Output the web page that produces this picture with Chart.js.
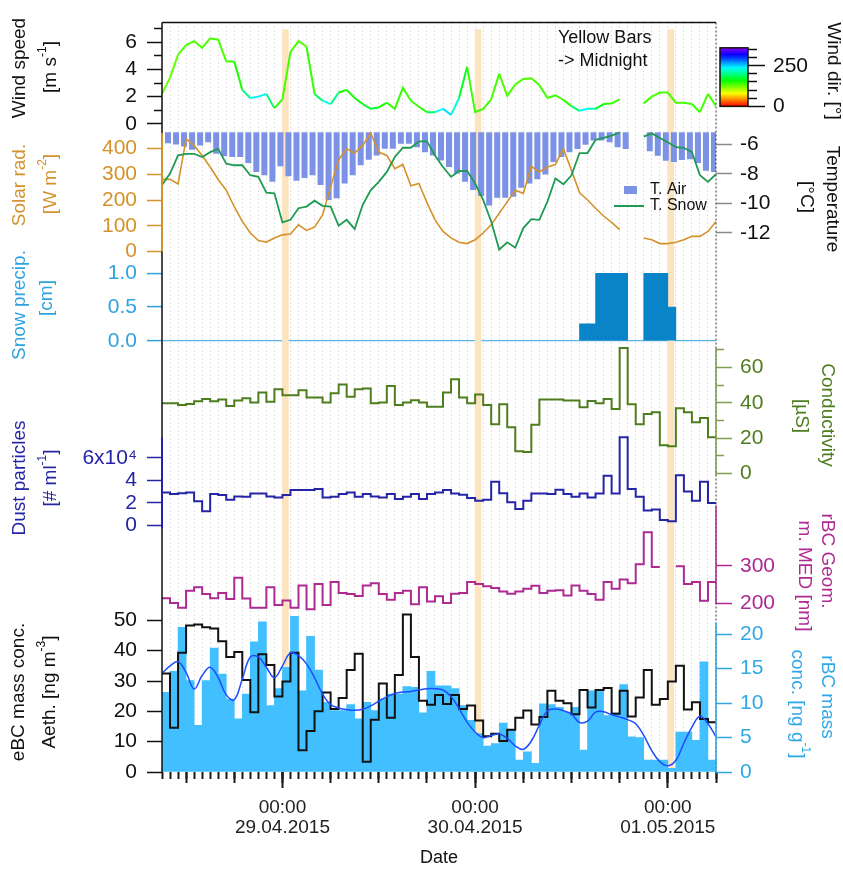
<!DOCTYPE html>
<html>
<head>
<meta charset="utf-8">
<script src="https://cdn.jsdelivr.net/npm/chart.js@4.4.0/dist/chart.umd.min.js"></script>
<style>
  html, body { margin: 0; padding: 0; background: #fff; }
</style>
</head>
<body>
<canvas id="snowChart" width="843" height="869"></canvas>
<script>
const FONT = "'Liberation Sans', Arial, sans-serif";

// time axis: hours since 28.04.2015 00:00
const hours = [9, 10, 11, 12, 13, 14, 15, 16, 17, 18, 19, 20, 21, 22, 23, 24, 25, 26, 27, 28,
  29, 30, 31, 32, 33, 34, 35, 36, 37, 38, 39, 40, 41, 42, 43, 44, 45, 46, 47, 48,
  49, 50, 51, 52, 53, 54, 55, 56, 57, 58, 59, 60, 61, 62, 63, 64, 65, 66, 67, 68,
  69, 70, 71, 72, 73, 74, 75, 76, 77, 78];
const avgHours = hours.slice(0, -1); // hourly means, each covering [h, h+1]
const midnights = [24, 48, 72];
const midnightBand = [1, 1, 1];

const windSpeed = [2.2, 3.4, 5.1, 5.8, 6.1, 5.6, 6.3, 6.2, 4.6, 4.6,
  2.5, 1.9, 2.0, 2.2, 1.15, 1.8, 5.3, 6.1, 5.7, 2.2,
  1.7, 1.45, 2.3, 2.5, 1.9, 1.45, 1.1, 1.2, 1.55, 1.1,
  2.65, 1.7, 1.25, 0.85, 0.85, 1.1, 0.65, 1.9, 4.2, 0.85,
  1.1, 1.8, 3.7, 2.05, 2.9, 3.3, 3.35, 2.85, 1.9, 2.1,
  1.75, 1.3, 0.95, 1.1, 1.1, 1.45, 1.5, 1.8, null, null,
  1.5, 2.0, 2.3, 2.3, 1.55, 1.55, 1.45, 0.85, 2.2, 1.3];
const windDir = [125, 125, 130, 135, 135, 135, 135, 135, 135, 140,
  160, 235, 245, 235, 150, 140, 135, 135, 135, 150,
  225, 240, 160, 150, 150, 160, 185, 160, 140, 140,
  140, 140, 140, 150, 225, 245, 250, 200, 140, 140,
  140, 140, 135, 135, 135, 135, 135, 135, 140, 140,
  140, 150, 235, 240, 190, 150, 140, 140, null, null,
  140, 135, 135, 135, 135, 135, 140, 140, 135, 135];
const solarRad = [280, 280, 262, 437, 412, 373, 328, 280, 238, 174,
  117, 72, 43, 37, 53, 65, 68, 104, 82, 95,
  142, 251, 356, 399, 382, 412, 459, 386, 373, 322,
  338, 255, 264, 190, 123, 78, 53, 36, 31, 46,
  72, 104, 149, 193, 238, 226, 331, 309, 328, 338,
  399, 315, 229, 200, 168, 138, 113, 85, null, null,
  53, 46, 31, 31, 36, 46, 59, 59, 78, 117];
const tAir = [-5.91, -6.0, -6.13, -6.36, -6.07, -5.85, -6.63, -6.8, -6.85, -6.85,
  -7.26, -7.86, -8.09, -8.54, -7.48, -8.15, -8.47, -8.27, -8.09, -8.76,
  -9.77, -9.66, -8.65, -8.09, -7.41, -7.03, -6.74, -6.29, -6.29, -5.95,
  -5.95, -6.18, -6.52, -6.74, -7.08, -7.53, -7.97, -8.54, -9.1, -9.5,
  -10.15, -9.62, -9.62, -9.55, -8.94, -8.65, -8.36, -8.04, -7.19, -6.85,
  -6.52, -6.3, -6.02, -5.73, -5.73, -5.84, -6.18, -6.3, null, null,
  -6.45, -6.77, -7.1, -7.19, -7.05, -7.0, -7.25, -7.78, -7.86, null];
const tSnow = [-8.76, -7.97, -6.74, -6.63, -6.63, -6.85, -6.52, -6.29, -7.3, -7.41,
  -7.41, -8.09, -8.2, -9.28, -9.32, -11.3, -11.12, -10.33, -10.22, -9.82,
  -10.17, -10.22, -11.52, -11.12, -11.74, -10.1, -9.1, -8.54, -7.86, -6.85,
  -6.22, -6.22, -5.78, -5.78, -6.74, -7.53, -8.2, -7.8, -7.8, -8.65,
  -9.77, -11.23, -13.14, -12.65, -13.02, -11.68, -11.07, -11.12, -9.89, -8.31,
  -8.7, -8.09, -6.58, -6.58, -5.68, -5.55, -5.39, -5.17, null, null,
  -5.46, -5.24, -5.55, -5.85, -6.18, -6.22, -6.52, -8.09, -8.54, -8.02];
const snowHours = [61, 62, 63, 64, 65, 66, 69, 70, 71, 72];
const snowPrecip = [0.25, 0.25, 1, 1, 1, 1, 1, 1, 1, 0.5];

const conductivity = [39.8, 39.8, 38.8, 39.4, 41, 42.2, 41, 42, 38.3, 41.3,
  42.6, 40.3, 45.9, 40.7, 47.8, 44.4, 44.4, 47.2, 43.1, 43.1,
  40.3, 45.4, 50.4, 43.5, 47.8, 48.2, 39.8, 40.2, 49.5, 38.8,
  40.3, 41.5, 40.3, 37.9, 37.9, 45.9, 53.4, 43, 39.8, 44.8,
  38.8, 28, 39.2, 26.2, 12.7, 12.2, 27.6, 42, 42, 42,
  41.3, 41.3, 37.5, 41.1, 39.8, 42.2, 36.6, 71, 39.2, 28,
  33.8, 34.7, 16.1, 15.5, 37, 34.7, 29.1, 31.4, 20.6];
const dustParticles = [2.91, 2.77, 2.85, 2.91, 2.12, 1.24, 2.77, 2.68, 2.27, 2.56,
  2.53, 2.82, 2.82, 2.56, 2.47, 2.68, 3.12, 3.12, 3.12, 3.21,
  2.47, 2.53, 2.77, 2.91, 2.53, 2.77, 2.56, 2.47, 2.77, 2.32,
  2.53, 2.77, 2.32, 2.77, 2.91, 3.12, 2.82, 2.71, 2.41, 2.18,
  2.27, 3.86, 2.85, 2.03, 1.44, 2.18, 2.82, 2.82, 2.77, 3.15,
  2.77, 2.53, 2.82, 2.47, 2.82, 4.39, 2.82, 7.83, 3.21, 2.53,
  1.3, 1.39, 0.47, 0.35, 4.44, 3.0, 2.18, 3.86, 1.97];
const geomMed = [214, 201, 189, 234, 243, 225, 214, 228, 212, 268,
  213, 189, 189, 243, 196, 208, 189, 248, 185, 252,
  196, 257, 228, 225, 220, 248, 254, 225, 210, 228,
  234, 198, 243, 205, 219, 201, 226, 228, 257, 252,
  246, 241, 232, 226, 232, 239, 247, 228, 234, 235,
  221, 248, 234, 225, 210, 257, 239, 264, 254, 304,
  389, 297, null, null, 299, 252, 257, 207, 257];
const ebcAeth = [32.5, 14.6, 39.3, 48.3, 48.6, 47.7, 47.3, 43.1, 37.9, 39.6,
  30.3, 19.7, 38.8, 35.3, 24.9, 29.8, 39.3, 7.2, 13.5, 20,
  26.2, 20.8, 24.4, 33.6, 39, 3.4, 17.2, 29.2, 17.9, 32,
  51.9, 37.9, 23.5, 22.2, 25.4, 22.4, 25.4, 20.8, 21.9, 17,
  11.8, 12.6, 10.2, 13.9, 17.9, 20.3, 15.7, 18.1, 26.8, 23.5,
  22.7, 19, 27, 21.3, 27, 27.7, 19.2, 26.8, 18.3, 24.6,
  33.6, 22.2, 24.1, 29.8, 35, 20.6, 23, 17.5, 16.4];
const rbcMass = [11.57, 14.6, 21.0, 13.26, 6.77, 13.26, 17.97, 14.2, 10.6, 7.73,
  11.3, 18.9, 21.8, 9.65, 12.1, 15.2, 22.6, 11.8, 19.7, 14.8,
  10.1, 8.93, 8.93, 9.8, 7.73, 10.1, 8.93, 10.6, 11.3, 11.3,
  12.4, 12.3, 8.6, 14.6, 12.5, 12.5, 12.1, 9.65, 7.5, 5.57,
  3.75, 4.13, 7.1, 6.05, 1.73, 2.93, 1.25, 9.9, 9.8, 9.4,
  8.7, 9.4, 3.17, 11.8, 11.8, 8.2, 8.6, 12.7, 5.1, 5.0,
  1.73, 1.73, 1.73, 0.53, 5.81, 5.81, 4.6, 16.0, 1.73];
const rbcSmooth = [14.3, 15.4, 16.0, 14.45, 12.05, 14.0, 15.2, 13.7, 11.2, 10.5,
  13.5, 16.7, 16.7, 15.2, 13.7, 15.4, 17.3, 16.9, 15.7, 13.7,
  11.3, 9.8, 9.3, 9.05, 8.95, 9.1, 9.6, 10.3, 10.9, 11.4,
  11.6, 11.7, 11.9, 12.1, 12.1, 11.9, 10.95, 9.2, 7.25, 5.8,
  5.0, 5.3, 5.5, 4.9, 3.8, 3.3, 4.5, 6.8, 8.9, 9.15,
  8.9, 8.4, 7.2, 7.4, 8.7, 8.75, 8.3, 8.0, 7.6, 7.0,
  5.3, 3.1, 1.5, 0.9, 1.7, 4.2, 6.5, 8.1, 7.0, 5.1];

// tick labels
const wsTicks = [0, 2, 4, 6], wsMinor = [1, 3, 5, 7];
const solTicks = [0, 100, 200, 300, 400];
const snowTicks = [0, 0.5, 1];
const dustTicks = [0, 2, 4, 6];
const ebcTicks = [0, 10, 20, 30, 40, 50];
const wdTicks = [0, 250], wdMinor = [50, 100, 150, 200, 300, 350];
const tempTicks = [-12, -10, -8, -6];
const condTicks = [0, 20, 40, 60], condMinor = [10, 30, 50, 70];
const geomTicks = [200, 300];
const rbcTicks = [0, 5, 10, 15, 20];

const solColor = '#d4922a', snowLabel = '#2ea3e0', snowBar = '#0a84c8';
const dustColor = '#2424a6', condColor = '#4e7d1e', geomColor = '#ad2a91';
const rbcLabel = '#2fa8e6', rbcBar = '#42bfff', tAirColor = '#7b92e6', tSnowColor = '#1f9a52';

// panels share one plot area; each axis range is set so its values land in its own band
const AREA = { left: 162, right: 716, top: 16, bottom: 772 };
function band(v1, p1, v2, p2) {
  const k = (v2 - v1) / (p2 - p1);
  return { min: v1 + k * (AREA.bottom - p1), max: v1 + k * (AREA.top - p1) };
}
const R = {
  ws: band(0, 118, 6, 36), wd: band(0, 100.5, 250, 59.5), sol: band(0, 247, 400, 143),
  tmp: band(-6, 139, -12, 228), snow: band(0, 337, 1, 269), cond: band(0, 471, 60, 364),
  dust: band(0, 523, 6, 455), geom: band(200, 602, 300, 564), ebc: band(0, 772, 50, 619),
  rbc: band(0, 772, 20, 633), mid: band(0, 772, 1, 23)
};
const tAirTop = -5.17;

function dirColor(d) {
  return 'hsl(' + (d * 0.76).toFixed(1) + ', 100%, 50%)';
}

const pts = (xs, ys, dx = 0) => xs.map((x, i) => ({ x: x + dx, y: ys[i] }));
function stepPts(xs, ys) {
  const out = [];
  xs.forEach((x, i) => {
    if (ys[i] === null) out.push({ x, y: null });
    else out.push({ x, y: ys[i] }, { x: x + 1, y: ys[i] });
  });
  return out;
}

const tickFont = { family: FONT, size: 21 };
function yAxis(pos, range, ticks, color, o = {}) {
  return {
    type: 'linear', axis: 'y', position: pos, weight: o.weight || 0,
    min: range.min, max: range.max, bounds: 'data', beginAtZero: false,
    afterBuildTicks: s => { s.ticks = ticks.map(value => ({ value })); },
    afterFit: s => { s.width = 0; },
    border: { display: false },
    grid: Object.assign({
      drawOnChartArea: false, tickLength: o.len || 15, tickWidth: 1.5,
      tickColor: o.tickColor || color
    }, o.grid || {}),
    ticks: {
      display: o.labels !== false, color, padding: o.pad || 10, autoSkip: false,
      font: tickFont, callback: o.fmt || (v => String(v))
    }
  };
}
function xAxis(ticks, o = {}) {
  return {
    type: 'linear', axis: 'x', position: 'bottom', min: 9, max: 78, offset: false,
    afterBuildTicks: s => { s.ticks = ticks.map(value => ({ value })); },
    afterFit: s => { s.height = 0; },
    border: { display: false, dash: [1, 3] },
    grid: Object.assign({
      offset: false, drawOnChartArea: false, tickLength: 7, tickWidth: 2,
      tickColor: '#1a1a1a', tickBorderDash: []
    }, o.grid || {}),
    ticks: Object.assign({ display: false, autoSkip: false, maxRotation: 0 }, o.ticks || {})
  };
}
const hiddenX = { type: 'linear', display: false, min: 9, max: 78, offset: false, grid: { offset: false } };

function dateLabel(v) {
  const d = new Date(2015, 3, 28 + v / 24);
  const p = n => String(n).padStart(2, '0');
  return ['00:00', p(d.getDate()) + '.' + p(d.getMonth() + 1) + '.' + d.getFullYear()];
}

const titles = [
  { t: 'Wind speed', x: 20, y: 68, r: -1, c: '#111' },
  { t: '[m s^-1^]', x: 51, y: 67, r: -1, c: '#111' },
  { t: 'Solar rad.', x: 20, y: 185, r: -1, c: solColor },
  { t: '[W m^-2^]', x: 51, y: 184, r: -1, c: solColor },
  { t: 'Snow precip.', x: 20, y: 305, r: -1, c: snowLabel },
  { t: '[cm]', x: 47, y: 298, r: -1, c: snowLabel },
  { t: 'Dust particles', x: 20, y: 478, r: -1, c: dustColor },
  { t: '[# ml^-1^]', x: 51, y: 478, r: -1, c: dustColor },
  { t: 'eBC mass conc.', x: 19, y: 692, r: -1, c: '#111' },
  { t: 'Aeth. [ng m^-3^]', x: 50, y: 692, r: -1, c: '#111' },
  { t: 'Wind dir. [°]', x: 833, y: 71, r: 1, c: '#111' },
  { t: 'Temperature', x: 832, y: 199, r: 1, c: '#111' },
  { t: '[°C]', x: 806, y: 197, r: 1, c: '#111' },
  { t: 'Conductivity', x: 827, y: 415, r: 1, c: condColor },
  { t: '[µS]', x: 801, y: 416, r: 1, c: condColor },
  { t: 'rBC Geom.', x: 827, y: 561, r: 1, c: geomColor },
  { t: 'm. MED [nm]', x: 804, y: 576, r: 1, c: geomColor },
  { t: 'rBC mass', x: 827, y: 697, r: 1, c: rbcLabel },
  { t: 'conc. [ng g^-1^]', x: 797, y: 704, r: 1, c: rbcLabel }
];

function drawRich(ctx, text, x, y, rot, color, size) {
  const parts = text.split('^');
  const big = size + 'px ' + FONT, small = Math.round(size * 0.62) + 'px ' + FONT;
  let w = 0;
  parts.forEach((p, i) => { ctx.font = i % 2 ? small : big; w += ctx.measureText(p).width; });
  ctx.save();
  ctx.translate(x, y);
  ctx.rotate(rot * Math.PI / 2);
  ctx.fillStyle = color;
  ctx.textBaseline = 'middle';
  ctx.textAlign = 'left';
  let cx = -w / 2;
  parts.forEach((p, i) => {
    ctx.font = i % 2 ? small : big;
    ctx.fillText(p, cx, i % 2 ? -size * 0.42 : 0);
    cx += ctx.measureText(p).width;
  });
  ctx.restore();
}

function vline(ctx, x, y1, y2, color, w, dash) {
  ctx.beginPath();
  ctx.setLineDash(dash || []);
  ctx.strokeStyle = color;
  ctx.lineWidth = w;
  ctx.moveTo(x, y1);
  ctx.lineTo(x, y2);
  ctx.stroke();
  ctx.setLineDash([]);
}

// zero-width axes still need room to paint their labels (labels are clipped to the axis box)
const widenAxes = {
  id: 'widenAxes',
  afterLayout(chart) {
    Object.values(chart.scales).forEach(s => {
      const pos = s.options.position;
      if (pos === 'left') s.left = s.right - 160;
      else if (pos === 'right') s.right = s.left + 125;
      else if (pos === 'bottom') s.bottom = s.top + 90;
    });
  }
};

const decor = {
  id: 'decor',
  afterDraw(chart) {
    const { ctx, chartArea: a, scales: s } = chart;
    ctx.save();
    // frame and coloured axis lines
    vline(ctx, a.right, a.top, a.bottom, '#444', 1, [2, 2]);
    vline(ctx, a.left, a.top, a.bottom, '#111', 1.5);
    vline(ctx, a.left, s.ySol.getPixelForValue(0), s.ySol.getPixelForValue(460), solColor, 2);
    vline(ctx, a.left, s.yDust.getPixelForValue(-0.3), s.yDust.getPixelForValue(7.8), dustColor, 2);
    vline(ctx, a.right, s.yCond.getPixelForValue(-1), s.yCond.getPixelForValue(71), '#7f9f55', 1.5);
    vline(ctx, a.right, s.yGeom.getPixelForValue(198), s.yGeom.getPixelForValue(460), geomColor, 1.5);
    vline(ctx, a.right, s.yRbc.getPixelForValue(0), s.yRbc.getPixelForValue(21.7), rbcLabel, 1.5);
    ctx.beginPath();
    ctx.strokeStyle = '#111';
    ctx.lineWidth = 1.5;
    ctx.moveTo(a.left, a.top);
    ctx.lineTo(a.right, a.top);
    ctx.stroke();

    // wind direction colour bar
    const cb = s.yWd;
    const y0 = cb.getPixelForValue(0), y1 = cb.getPixelForValue(360);
    const g = ctx.createLinearGradient(0, y0, 0, y1);
    for (let d = 0; d <= 360; d += 20) g.addColorStop(d / 360, dirColor(d));
    ctx.fillStyle = g;
    ctx.fillRect(cb.left - 28, y1, 28, y0 - y1);
    ctx.strokeStyle = '#111';
    ctx.lineWidth = 1.5;
    ctx.strokeRect(cb.left - 28, y1, 28, y0 - y1);

    // axis titles
    titles.forEach(tt => drawRich(ctx, tt.t, tt.x, tt.y, tt.r, tt.c, 19));

    // notes and legend
    ctx.fillStyle = '#111';
    ctx.textBaseline = 'middle';
    ctx.textAlign = 'left';
    ctx.font = '18px ' + FONT;
    ctx.fillText('Yellow Bars', 558, 38);
    ctx.fillText('-> Midnight', 558, 61);
    ctx.font = '16px ' + FONT;
    ctx.fillStyle = tAirColor;
    ctx.fillRect(624, 186, 13, 8);
    ctx.fillStyle = '#111';
    ctx.fillText('T. Air', 650, 190);
    ctx.beginPath();
    ctx.strokeStyle = tSnowColor;
    ctx.lineWidth = 2;
    ctx.moveTo(614, 206);
    ctx.lineTo(644, 206);
    ctx.stroke();
    ctx.fillText('T. Snow', 650, 206);
    ctx.textAlign = 'center';
    ctx.font = '18px ' + FONT;
    ctx.fillText('Date', (a.left + a.right) / 2, 858);
    ctx.restore();
  }
};

const lineBase = { type: 'line', pointRadius: 0, fill: false, tension: 0, xAxisID: 'x' };
const barBase = { type: 'bar', grouped: false, borderWidth: 0, categoryPercentage: 1 };

new Chart(document.getElementById('snowChart'), {
  type: 'line',
  data: {
    datasets: [
      Object.assign({}, barBase, { label: 'Midnight', data: pts(midnights, midnightBand, 0.37), xAxisID: 'xMid', yAxisID: 'yMid',
        backgroundColor: '#fde4c0', barThickness: 6, order: 20 }),
      Object.assign({}, barBase, { label: 'rBC mass conc.', data: pts(avgHours, rbcMass, 0.5), xAxisID: 'xRb', yAxisID: 'yRbc',
        backgroundColor: rbcBar, barPercentage: 1, order: 15 }),
      Object.assign({}, barBase, { label: 'T. Air', data: pts(hours, tAir, 0.75), xAxisID: 'xTa', yAxisID: 'yTmp',
        base: tAirTop, backgroundColor: tAirColor, barPercentage: 0.75, order: 14 }),
      Object.assign({}, barBase, { label: 'Snow precip.', data: pts(snowHours, snowPrecip, 0.5), xAxisID: 'xSn', yAxisID: 'ySnow',
        backgroundColor: snowBar, barPercentage: 1, order: 13 }),
      Object.assign({}, lineBase, { label: 'Solar rad.', data: pts(hours, solarRad), yAxisID: 'ySol',
        borderColor: solColor, borderWidth: 1.6, order: 7 }),
      Object.assign({}, lineBase, { label: 'T. Snow', data: pts(hours, tSnow), yAxisID: 'yTmp',
        borderColor: tSnowColor, borderWidth: 1.8, order: 6 }),
      Object.assign({}, lineBase, { label: 'Wind speed', data: pts(hours, windSpeed), yAxisID: 'yWs',
        borderColor: dirColor(135), borderWidth: 2,
        segment: { borderColor: c => dirColor((windDir[c.p0DataIndex] + windDir[c.p1DataIndex]) / 2) }, order: 5 }),
      Object.assign({}, lineBase, { label: 'Conductivity', data: stepPts(avgHours, conductivity), yAxisID: 'yCond',
        borderColor: condColor, borderWidth: 2, order: 4 }),
      Object.assign({}, lineBase, { label: 'Dust particles', data: stepPts(avgHours, dustParticles), yAxisID: 'yDust',
        borderColor: dustColor, borderWidth: 2, order: 3 }),
      Object.assign({}, lineBase, { label: 'rBC Geom. m. MED', data: stepPts(avgHours, geomMed), yAxisID: 'yGeom',
        borderColor: geomColor, borderWidth: 2, order: 2 }),
      Object.assign({}, lineBase, { label: 'eBC mass conc. Aeth.', data: stepPts(avgHours, ebcAeth), yAxisID: 'yEbc',
        borderColor: '#111', borderWidth: 2, order: 1 }),
      Object.assign({}, lineBase, { label: 'rBC mass smoothed', data: pts(hours, rbcSmooth), yAxisID: 'yRbc',
        borderColor: '#1c4dff', borderWidth: 1.5, tension: 0.4, order: 0 })
    ]
  },
  options: {
    responsive: false,
    animation: false,
    events: [],
    layout: { padding: { left: 162, right: 95, top: 16, bottom: 97 } },
    plugins: { legend: { display: false }, tooltip: { enabled: false } },
    scales: {
      x: xAxis(hours, { grid: { drawOnChartArea: true, color: '#c8c8c8', lineWidth: 1 } }),
      x6: xAxis(hours.filter(h => h % 6 === 0), { grid: { tickLength: 11 } }),
      xd: xAxis(midnights, {
        grid: { tickLength: 16 },
        ticks: { display: true, color: '#222', padding: 10, font: { family: FONT, size: 19, lineHeight: 1.05 }, callback: dateLabel }
      }),
      xTa: hiddenX, xSn: hiddenX, xRb: hiddenX, xMid: hiddenX,
      yWs: yAxis('left', R.ws, wsTicks, '#111'),
      yWsM: yAxis('left', R.ws, wsMinor, '#111', { len: 8, labels: false }),
      ySol: yAxis('left', R.sol, solTicks, solColor),
      ySnow: yAxis('left', R.snow, snowTicks, snowLabel, {
        fmt: v => v.toFixed(1),
        grid: { drawOnChartArea: true, lineWidth: 1.2, color: c => (c.tick && c.tick.value === 0 ? '#5ab4e6' : 'rgba(0,0,0,0)') }
      }),
      yDust: yAxis('left', R.dust, dustTicks, dustColor, { fmt: v => (v === 6 ? '6x10⁴' : String(v)) }),
      yEbc: yAxis('left', R.ebc, ebcTicks, '#111'),
      yTmp: yAxis('right', R.tmp, tempTicks, '#111', { len: 16, pad: 8, tickColor: '#8a8a8a' }),
      yCond: yAxis('right', R.cond, condTicks, condColor, { len: 16, pad: 8, tickColor: '#7f9f55' }),
      yCondM: yAxis('right', R.cond, condMinor, condColor, { len: 8, labels: false, tickColor: '#7f9f55' }),
      yGeom: yAxis('right', R.geom, geomTicks, geomColor, { len: 16, pad: 8 }),
      yRbc: yAxis('right', R.rbc, rbcTicks, rbcLabel, { len: 16, pad: 8 }),
      ySpace: {
        type: 'linear', axis: 'y', position: 'right', weight: 1,
        afterFit: s => { s.width = 32; },
        ticks: { display: false }, grid: { display: false, drawTicks: false }, border: { display: false }
      },
      yWd: yAxis('right', R.wd, wdTicks, '#111', { weight: 2, len: 17, pad: 8 }),
      yWdM: yAxis('right', R.wd, wdMinor, '#111', { weight: 2, len: 9, labels: false }),
      yMid: { type: 'linear', axis: 'y', display: false, min: R.mid.min, max: R.mid.max }
    }
  },
  plugins: [widenAxes, decor]
});
</script>
</body>
</html>
